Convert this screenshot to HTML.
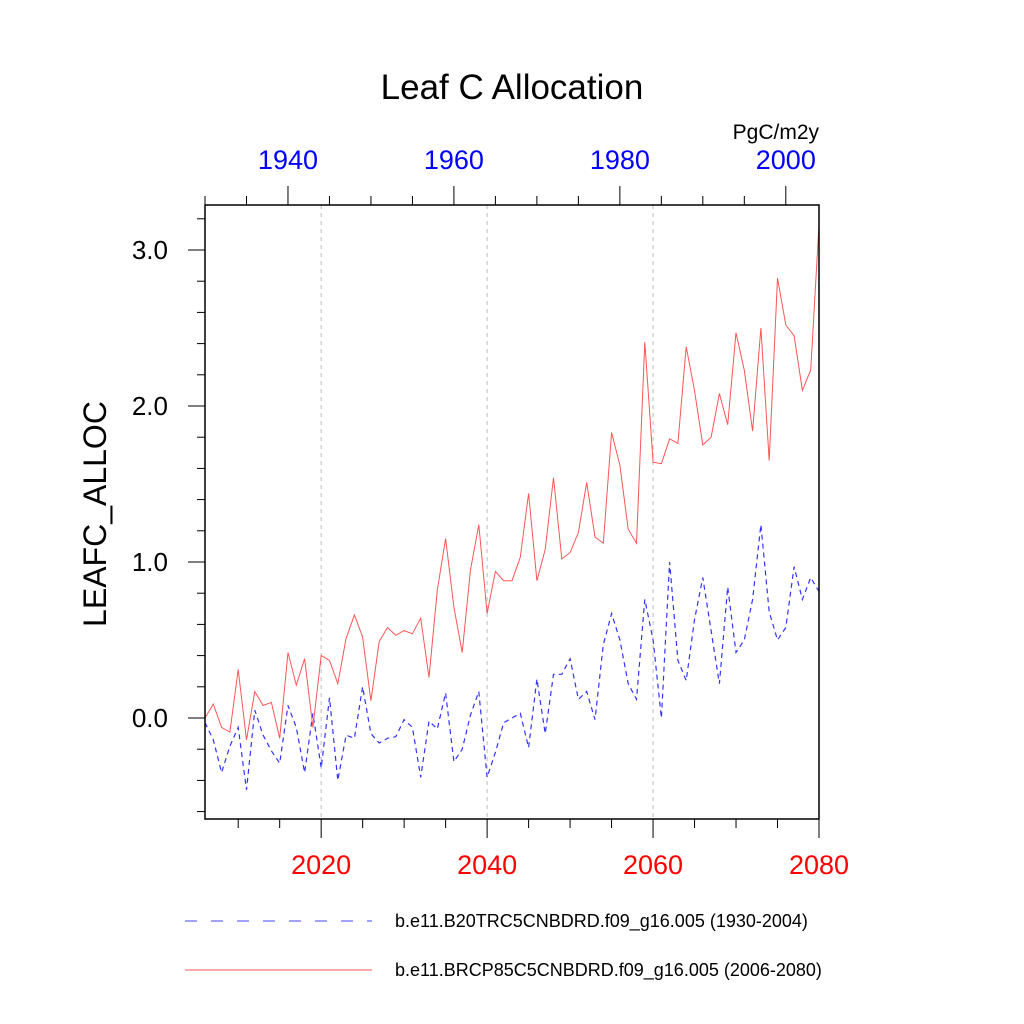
<!DOCTYPE html>
<html><head><meta charset="utf-8"><style>
html,body{margin:0;padding:0;background:#fff;}
svg{display:block;font-family:"Liberation Sans",sans-serif;}
</style></head><body>
<svg id="chart" width="1024" height="1024" viewBox="0 0 1024 1024" xmlns="http://www.w3.org/2000/svg">
<text x="512" y="99" text-anchor="middle" font-size="35">Leaf C Allocation</text>
<text x="819" y="139" text-anchor="end" font-size="21">PgC/m2y</text>
<text transform="translate(106,514) rotate(-90)" text-anchor="middle" font-size="32">LEAFC_ALLOC</text>
<g id="grid"></g>
<g id="ticks"></g>
<g id="series"></g>
<rect x="205" y="205" width="614" height="614" fill="none" stroke="#000" stroke-width="1.5"/>
<g>
<line x1="185" y1="921" x2="372" y2="921" stroke="#4444ff" stroke-width="1" stroke-dasharray="12,14"/>
<text x="395" y="927" font-size="18">b.e11.B20TRC5CNBDRD.f09_g16.005 (1930-2004)</text>
<line x1="185" y1="970" x2="372" y2="970" stroke="#ff5555" stroke-width="1"/>
<text x="395" y="976" font-size="18">b.e11.BRCP85C5CNBDRD.f09_g16.005 (2006-2080)</text>
</g>
</svg>
<script>
const rcpValues=[0.0,0.09,-0.06,-0.09,0.31,-0.14,0.17,0.08,0.10,-0.13,0.42,0.21,0.38,-0.06,0.40,0.37,0.22,0.51,0.66,0.52,0.11,0.49,0.58,0.53,0.56,0.54,0.64,0.26,0.82,1.15,0.71,0.42,0.95,1.24,0.67,0.94,0.88,0.88,1.03,1.44,0.88,1.08,1.54,1.02,1.06,1.19,1.51,1.16,1.12,1.83,1.62,1.21,1.12,2.41,1.64,1.63,1.79,1.76,2.38,2.10,1.75,1.80,2.08,1.88,2.47,2.23,1.84,2.50,1.65,2.82,2.52,2.45,2.10,2.23,3.16];
const histValues=[-0.03,-0.14,-0.35,-0.18,-0.06,-0.46,0.05,-0.11,-0.21,-0.29,0.08,-0.06,-0.35,0.03,-0.32,0.13,-0.40,-0.11,-0.13,0.20,-0.10,-0.16,-0.13,-0.12,-0.01,-0.06,-0.38,-0.02,-0.07,0.16,-0.28,-0.20,0.02,0.17,-0.38,-0.22,-0.03,0.00,0.03,-0.19,0.25,-0.10,0.28,0.28,0.38,0.12,0.17,-0.01,0.47,0.67,0.50,0.22,0.12,0.76,0.50,0.00,1.00,0.37,0.24,0.63,0.90,0.56,0.22,0.84,0.42,0.50,0.76,1.24,0.68,0.50,0.58,0.97,0.76,0.90,0.81];
const bottomTickLabels=["2020","2040","2060","2080"];
const topTickLabels=["1940","1960","1980","2000"];
const yTickLabels=["0.0","1.0","2.0","3.0"];
const rcpStart=2006, histStart=1930;

const NS="http://www.w3.org/2000/svg";
const L=205,R=819,T=205,B=819;
const xB=y=>L+(y-2006)*(R-L)/74;
const xT=y=>L+(y-1930)*(R-L)/74;
const yS=v=>718-v*156;
function mk(tag,attrs,parent){const e=document.createElementNS(NS,tag);for(const k in attrs)e.setAttribute(k,attrs[k]);parent.appendChild(e);return e;}
const grid=document.getElementById('grid'),ticks=document.getElementById('ticks'),series=document.getElementById('series'),svg=document.getElementById('chart');

bottomTickLabels.forEach(l=>{const x=xB(+l);
 if(+l<2080){const g=mk('line',{x1:x,y1:T,x2:x,y2:B,stroke:'#bbb','stroke-width':1,'stroke-dasharray':'4,4'},grid);
 
 }
 const t=mk('text',{x:x,y:874,'text-anchor':'middle','font-size':27,fill:'#ff0000'},svg);t.textContent=l;
 
 
});
for(let y=2010;y<=2080;y+=5){const x=xB(y);const maj=y%20===0;
 const e=mk('line',{x1:x,y1:B,x2:x,y2:B+(maj?19:9),stroke:'#000','stroke-width':1},ticks);
 
 }
topTickLabels.forEach(l=>{const x=xT(+l);
 const t=mk('text',{x:x,y:169,'text-anchor':'middle','font-size':27,fill:'#0000ff'},svg);t.textContent=l;
 
 });
for(let y=1930;y<=2000;y+=5){const x=xT(y);const maj=y%20===0;
 const e=mk('line',{x1:x,y1:T,x2:x,y2:T-(maj?19:9),stroke:'#000','stroke-width':1},ticks);
 
 }
yTickLabels.forEach(l=>{const y=yS(+l);
 const t=mk('text',{x:168,y:y+9,'text-anchor':'end','font-size':26},svg);t.textContent=l;
 
 });
for(let i=-3;i<=16;i++){const v=i*0.2;const y=yS(v);if(y<T-0.5||y>B)continue;const maj=i%5===0;
 const e=mk('line',{x1:L,y1:y,x2:L-(maj?17:8),y2:y,stroke:'#000','stroke-width':1},ticks);
 
 }

const hp=histValues.map((v,i)=>xT(histStart+i).toFixed(1)+','+yS(v).toFixed(1)).join(' ');
const h=mk('polyline',{points:hp,fill:'none',stroke:'#3333ff','stroke-width':1.2,'stroke-dasharray':'5,4'},series);


const rp=rcpValues.map((v,i)=>xB(rcpStart+i).toFixed(1)+','+yS(v).toFixed(1)).join(' ');
const r=mk('polyline',{points:rp,fill:'none',stroke:'#ff5555','stroke-width':1},series);


</script>
</body></html>
